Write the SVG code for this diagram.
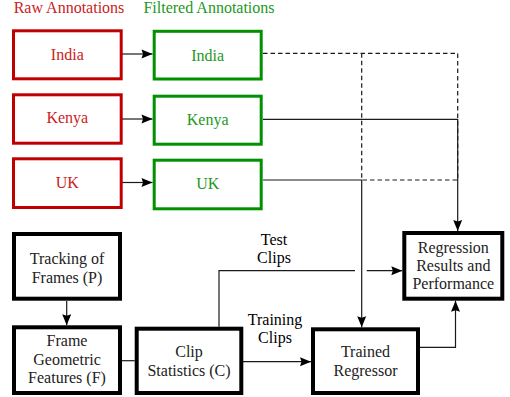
<svg xmlns="http://www.w3.org/2000/svg" width="510" height="397" viewBox="0 0 510 397" font-family="'Liberation Serif', 'Times New Roman', 'DejaVu Serif', serif">
<style>
text{font-family:'Liberation Serif','Times New Roman','DejaVu Serif',serif;font-size:16px;text-anchor:middle}
.raw rect{fill:#fff;stroke:#c00000;stroke-width:3}
.raw text{fill:#cc2222}
.fil rect{fill:#fff;stroke:#009000;stroke-width:3}
.fil text{fill:#229922}
.blk rect{fill:#fff;stroke:#000;stroke-width:4}
.blk text{fill:#222}
.c{fill:none;stroke:#1a1a1a;stroke-width:1.2}
.d{stroke-dasharray:4.5,3}
.a{marker-end:url(#ah)}
</style>
<defs>
<marker id="ah" markerUnits="userSpaceOnUse" markerWidth="12" markerHeight="10" refX="11" refY="4.5" orient="auto" overflow="visible">
<path d="M0,0 L11,4.5 L0,9 L1.5,4.5 z" fill="#000"/>
</marker>
</defs>
<rect width="510" height="397" fill="#fff"/>
<text x="69" y="13" style="fill:#cc2222">Raw Annotations</text>
<text x="209" y="13" style="fill:#229922">Filtered Annotations</text>

<g id="connectors">
<path class="c a" d="M122,54 H152.5"/>
<path class="c a" d="M122,119 H152.5"/>
<path class="c a" d="M122,182.5 H152.5"/>
<path class="c d" d="M263,53.3 H457.7 V180"/>
<path class="c d" d="M361.7,53.3 V180 H457.7"/>
<path class="c a" d="M263,119.3 H457.7 V231"/>
<path class="c a" d="M263,180 H361.7 V327.3"/>
<path class="c a" d="M66.7,301 V325.3"/>
<path class="c" d="M122,360.7 H134.7"/>
<path class="c a" d="M243,361.7 H311"/>
<path class="c" d="M219,326.7 V270.7 H355"/>
<path class="c a" d="M366.7,270.7 H402.3"/>
<path class="c a" d="M420,347.3 H455.5 V300.7"/>
<text x="274" y="245">Test</text>
<text x="274" y="262.7">Clips</text>
<text x="275" y="325">Training</text>
<text x="275" y="343">Clips</text>
</g>

<g id="raw-india" class="raw"><rect x="13.5" y="30.8" width="107.7" height="48"/><text x="67.3" y="60">India</text></g>
<g id="raw-kenya" class="raw"><rect x="13.5" y="94.8" width="107.7" height="48.4"/><text x="67.3" y="123.3">Kenya</text></g>
<g id="raw-uk" class="raw"><rect x="13.5" y="158.8" width="107.7" height="48.7"/><text x="67.3" y="187.7">UK</text></g>

<g id="fil-india" class="fil"><rect x="154.2" y="31.3" width="107" height="47.7"/><text x="207.7" y="61">India</text></g>
<g id="fil-kenya" class="fil"><rect x="154.2" y="96.2" width="107" height="48"/><text x="207.7" y="124.7">Kenya</text></g>
<g id="fil-uk" class="fil"><rect x="154.2" y="160.2" width="107" height="48.6"/><text x="207.7" y="189.3">UK</text></g>

<g id="tracking" class="blk"><rect x="14" y="234" width="106" height="64.7"/><text x="67" y="264">Tracking of</text><text x="67" y="283">Frames (P)</text></g>
<g id="geometric" class="blk"><rect x="14" y="327.3" width="106" height="65.7"/><text x="67" y="346">Frame</text><text x="67" y="364.5">Geometric</text><text x="67" y="383">Features (F)</text></g>
<g id="clipstats" class="blk"><rect x="136.7" y="328.7" width="104.6" height="64.3"/><text x="189" y="357">Clip</text><text x="189" y="375.5">Statistics (C)</text></g>
<g id="trained" class="blk"><rect x="313" y="329.3" width="105" height="63.7"/><text x="365.5" y="357.3">Trained</text><text x="365.5" y="375.5">Regressor</text></g>
<g id="results" class="blk"><rect x="404.3" y="233" width="98" height="65.7"/><text x="453.3" y="252.7">Regression</text><text x="453.3" y="271">Results and</text><text x="453.3" y="289.3">Performance</text></g>
</svg>
